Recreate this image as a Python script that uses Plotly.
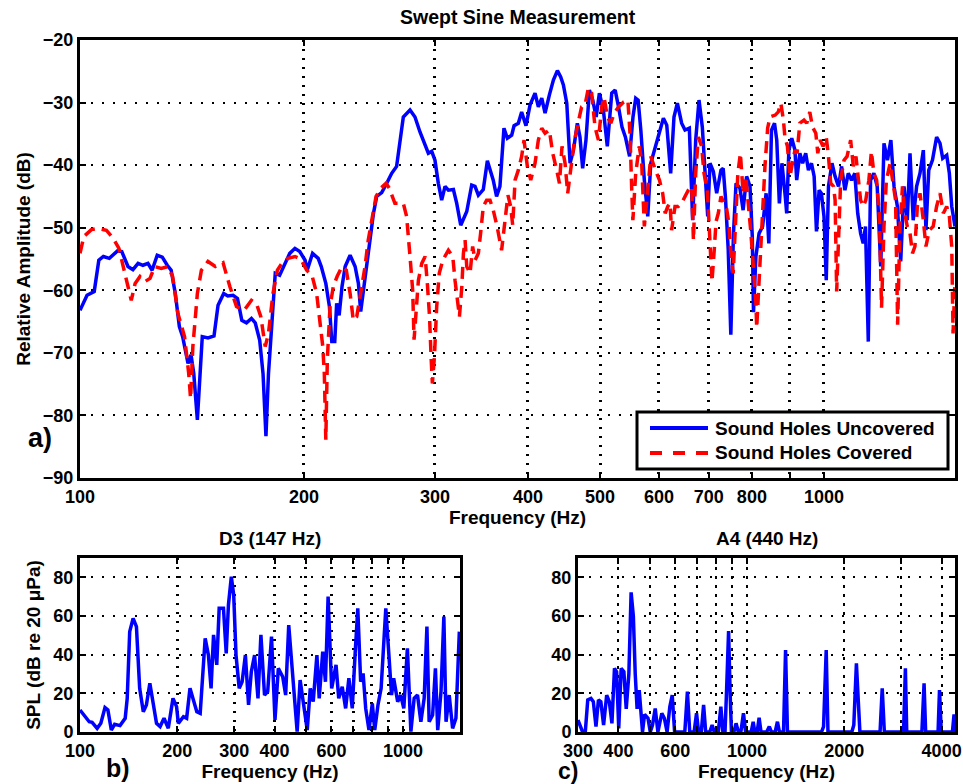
import math
import plotly.graph_objects as go

# ---------------- Data ----------------
# Panel a) Swept sine measurement, sound holes uncovered
a_unc_freq = [100, 102.2, 104.5, 106, 107.5, 109.5, 112.3, 113.8, 116, 117.8, 119.7, 121.5, 123.4, 125, 127, 129,
              131, 132.6, 134.3, 136, 137.4, 139.7, 141, 142.2, 143.8, 146, 148.6, 151.4, 153.3, 156, 158, 160.6,
              162.8, 165, 167.4, 170, 172, 174.4, 176.2, 177.8, 179.2, 181.2, 183, 185.5, 188.4, 191.4, 194.5,
              197.4, 200.7, 202, 205.4, 209, 211, 214, 216.4, 218, 220, 221.3, 223, 225, 227.2, 230.7, 234.3,
              236.7, 238.4, 240.9, 242.9, 245.4, 248, 250.5, 254.4, 258.4, 262.4, 266.4, 269.2, 272, 277.7, 282,
              286.4, 290.9, 293.9, 297, 300, 303.1, 306.3, 309.5, 312.7, 317.6, 320.9, 324.9, 328.3, 331, 336.1,
              339.6, 343.1, 348.4, 352.8, 356.4, 359.3, 363, 366.8, 371.4, 375.3, 380.4, 383.2, 388.3, 392.3,
              397.6, 402.6, 408.9, 413.1, 417.5, 421.8, 427.4, 432.8, 438.2, 442.7, 446.4, 451.1, 455.7, 460.5,
              466.1, 469.9, 473.8, 478.7, 483.8, 488.8, 494, 499, 505.2, 511.4, 518.5, 524, 529.5, 535.2, 540.8,
              547.9, 553.7, 558.4, 562.6, 567.3, 573.5, 579.6, 585, 593.5, 601, 608.3, 614.7, 622.2, 628.6, 635.2,
              643.7, 650.4, 659.2, 666, 672.3, 679.2, 686.2, 691.9, 697.8, 702.7, 710, 717.4, 727, 732, 737,
              743.5, 749.5, 755.7, 761.7, 771, 778.6, 787, 795.3, 801, 804, 810, 818, 827, 836, 843, 850, 858,
              864, 871, 878, 887, 891, 897, 905, 914, 919, 928, 936, 945, 953, 962, 970, 977, 985, 992, 1000,
              1007, 1014, 1025, 1035, 1046, 1056, 1067, 1078, 1089, 1100, 1110, 1120, 1129, 1137, 1147, 1155,
              1167, 1179, 1192, 1204, 1217, 1230, 1242, 1255, 1268, 1281, 1294, 1305, 1318, 1332, 1346, 1360,
              1371, 1383, 1399, 1417, 1432, 1444, 1462, 1474, 1485, 1500]
a_unc_db = [-63.2, -60.8, -60.2, -55.2, -54.6, -54.9, -53.7, -53.8, -56.2, -56.7, -55.7, -56, -55.7, -56.8, -54.4,
            -54.7, -56, -56.8, -60.5, -65.8, -67.4, -71.7, -70.3, -73.3, -80.7, -67.4, -67.6, -67.3, -62.4, -60.5,
            -60.9, -60.8, -61.3, -64.8, -65.2, -64.5, -65.2, -68, -73.3, -83.3, -73.3, -63.7, -57.3, -57.6, -55.7,
            -54.1, -53.3, -53.8, -55.2, -56.8, -54.1, -54.9, -56.2, -58.9, -62.6, -68.2, -68.2, -62.1, -64, -59.4,
            -56.2, -54.4, -56.2, -58.9, -63.4, -59.4, -56.2, -52, -47.7, -45, -44.4, -42.9, -41.3, -40.2, -36,
            -32.3, -31.2, -32.3, -34.7, -37, -38.1, -37.8, -39.2, -42.9, -45.6, -43.4, -44, -43.9, -46.1, -49.6,
            -48.5, -47.4, -43.2, -43.4, -44.8, -43.9, -39.3, -41.3, -42.4, -45, -43.4, -34.1, -35.7, -35.2, -33.7,
            -33.3, -31.5, -33.7, -30.4, -28.5, -30.7, -29.3, -31.7, -28.8, -26.4, -24.9, -25.9, -27.2, -30.1,
            -39.7, -37.6, -33.3, -35.5, -40.5, -36, -28, -29.6, -32.3, -28.5, -31.2, -37, -28.5, -28, -30.7,
            -33.9, -35.5, -38.6, -32.3, -29.3, -29.6, -34.4, -42.4, -48.2, -39.7, -37, -34.9, -32.5, -33.6,
            -41.3, -32.3, -30.1, -33.3, -34.4, -34.1, -48.8, -36, -29.6, -33.9, -40.2, -48.2, -39.7, -41, -44.5,
            -40.8, -40.5, -45, -53.5, -67.1, -50.9, -42.9, -43.7, -47.2, -41.8, -43.4, -51.4, -63.5, -54.6,
            -50.9, -49.8, -44.5, -52.5, -34.4, -33.3, -36, -46.1, -39.7, -45, -47.7, -37.6, -35.7, -37.6, -42.4,
            -38.1, -39.7, -38.1, -40.8, -39.7, -41.8, -50.6, -44, -44.5, -48.2, -58.4, -43.4, -39.7, -41.8,
            -43.4, -40.2, -44, -41.3, -42.4, -41.3, -47.7, -50.9, -52.5, -49.8, -68.2, -42.4, -41.3, -43.4,
            -56.2, -36.5, -39.2, -36, -43.4, -46.6, -55.4, -43.4, -48.8, -38.1, -48.8, -43.4, -41.3, -37.6,
            -50.4, -40.8, -39.2, -35.5, -36.5, -38.9, -38.4, -41.3, -46.6, -49.8]

# Panel a) sound holes covered
a_cov_freq = [100, 101.2, 103.6, 105.7, 108.5, 110.8, 112.8, 115, 117.2, 118.6, 120.4, 122.3, 124.2, 126, 128.6,
              131.3, 133.2, 135.4, 138.2, 140, 140.8, 141.8, 143.8, 145.6, 148.6, 152, 155.7, 159, 162.3, 166.2,
              170, 172.6, 175, 177.4, 179.2, 181.7, 184.2, 186.8, 190.4, 194.5, 198, 201.7, 205, 208, 210, 212,
              213, 213.6, 214, 215, 216.8, 219, 221.6, 225, 228, 230.7, 233, 235.5, 238.4, 241.6, 244, 246.7, 250,
              253.6, 257.9, 260.5, 265, 272, 274.8, 277.7, 280, 281.2, 282.9, 285, 288, 291, 293, 295, 296.4,
              297.6, 299.5, 301.6, 304, 307.3, 312.7, 317, 319.2, 321.6, 323.6, 326, 327.6, 329.3, 331, 334.4,
              337.1, 339.6, 343.1, 345.5, 348.4, 352, 355.7, 359.3, 363.6, 368.7, 372.5, 376, 379.2, 381.6,
              384.4, 388.3, 392.3, 395.2, 399.3, 403.5, 408.9, 413.1, 417.5, 421.8, 427.4, 431.9, 437.3, 441,
              444.5, 448.7, 452.4, 456.6, 461.4, 467.5, 472.3, 477.3, 482.2, 487.2, 492.3, 497.5, 502.6, 506.3,
              511.5, 517, 522.3, 529.5, 538, 545, 548.6, 551.6, 553.5, 558.4, 564.5, 568.6, 573.5, 579.6, 585,
              593.5, 601, 607, 611.7, 616.7, 620.9, 624, 630.6, 637, 643.7, 650.4, 657, 664, 667.6, 672.3, 677.8,
              684.8, 689.8, 697, 701.3, 704, 707, 712, 716, 721, 727, 734, 740, 745, 749, 755, 760, 766, 772,
              778.6, 785, 791, 797, 803.6, 810, 812, 816, 822, 827, 833, 840, 846, 860, 868, 875, 882, 886, 893,
              900, 908, 914, 920, 928, 940, 948, 957, 965, 975, 981, 988, 997, 1007, 1014, 1021, 1030, 1035,
              1040, 1046, 1053, 1064, 1074, 1086, 1095, 1104, 1112, 1120, 1129, 1138, 1149, 1158, 1167, 1177,
              1187, 1195, 1204, 1213, 1227, 1240, 1248, 1256, 1265, 1275, 1284, 1294, 1305, 1315, 1325, 1335,
              1346, 1360, 1371, 1385, 1402, 1417, 1432, 1447, 1462, 1474, 1485, 1491, 1500]
a_cov_db = [-54.1, -51.4, -50.3, -50.1, -50.4, -51.7, -53.3, -57.3, -61.6, -58.9, -57.8, -58.6, -58.1, -56.2, -56.5,
            -56.2, -57.8, -63.7, -67.4, -73.3, -77.3, -69, -60.5, -56.8, -55.4, -56.2, -55.6, -59.4, -62.6, -63.2,
            -61.6, -62.1, -64.2, -69, -66.9, -60.5, -56.8, -55.7, -54.9, -54.6, -55, -56.8, -57.6, -60.5, -64.8,
            -69, -73.3, -78.6, -83.9, -71.1, -62.6, -59.4, -57.8, -56.2, -56.8, -60.5, -64.8, -64.2, -60.5,
            -56.2, -52, -48.8, -45, -43.7, -42.9, -43.7, -46.1, -46.1, -48.2, -54.6, -60, -67.9, -63.7, -58.4,
            -55.7, -54.6, -58.9, -64.2, -70.6, -74.9, -70.6, -62.6, -57.3, -55.2, -53.6, -54.6, -58.4, -62.1,
            -64.2, -59.4, -54.1, -52, -56.2, -57.3, -53, -55.2, -54.1, -50.9, -46.6, -45.6, -45.6, -47.2, -49.8,
            -53.6, -48.8, -44.8, -46.6, -49.6, -42.4, -40.8, -38.6, -36, -40.2, -42.4, -39.7, -36, -34.1,
            -34.9, -34.4, -38.1, -40.8, -42.9, -37, -39.7, -44.5, -40.2, -36.5, -33.1, -30.7, -30.4, -27.7,
            -28.5, -33.9, -36, -30.7, -29.1, -32.3, -33.3, -31.7, -30.7, -29.9, -29.6, -34.9, -44, -48.8,
            -41.3, -37, -39.2, -49.8, -44, -38.6, -40.8, -42.4, -44.5, -47.7, -46.6, -46.1, -50.4, -46.6,
            -46.6, -46.1, -45, -44, -43.4, -52, -41.3, -35.5, -37, -41.3, -44, -49.8, -54, -58.6, -53.6, -49,
            -47.7, -45, -46.1, -47, -49.3, -53.6, -57.3, -49.8, -41.3, -38.1, -44.5, -41.8, -45.6, -50.4, -56.2,
            -62, -66, -60.5, -54.6, -46.6, -40.2, -34.1, -32.3, -32, -31.5, -30.1, -32.8, -35.5, -37, -41.8,
            -39.7, -37.6, -38.1, -33.3, -32.8, -33.3, -31.5, -33.9, -34.9, -38.1, -36, -37, -35.5, -38.6, -42.9,
            -43.4, -45.6, -60.2, -52, -42.4, -39.2, -38.6, -36, -40.2, -38.6, -42.4, -45.6, -46.6, -45.6, -42.4,
            -37.8, -41.3, -42.4, -48.2, -62.8, -49.8, -42.4, -39.7, -43.4, -45.6, -65.5, -49.8, -43.4, -47.7,
            -49.8, -50.9, -54.1, -53, -46.6, -44.5, -48.8, -53, -50.4, -49.8, -46.6, -44.5, -47.7, -46.6, -48.2,
            -53, -66.9, -58.4]

# Panel b) D3 (147 Hz) spectrum
b_freq = [100, 103.5, 106.8, 109, 113, 116, 119.5, 122, 125, 128, 133, 138, 140, 142.5, 146, 149.5, 153, 157,
          160.5, 164.5, 168.5, 172.5, 177, 182, 187.6, 194, 199, 201.5, 209, 213.8, 219, 224, 229.9, 235.5,
          239.5, 244, 249.7, 254.5, 259, 265, 269.6, 278, 283.5, 288, 294, 299, 304, 311, 317.5, 325, 332.4,
          339, 347, 355.5, 363, 372.5, 381, 391.5, 401.3, 411, 424, 433, 442.6, 456, 470, 480, 490, 505, 516,
          527, 541, 550, 564, 575, 586, 601, 620, 632, 648, 664, 679.5, 696, 710, 724, 739, 752, 766, 784, 803,
          817, 836, 855, 884, 905, 921, 935, 962, 983, 1005, 1031, 1057, 1082, 1108, 1135, 1162, 1185, 1204,
          1234, 1259, 1280, 1310, 1337, 1358, 1389, 1423, 1457, 1475, 1493]
b_spl = [11.4, 7.9, 5.3, 5, 1.9, 4.5, 12.6, 11.4, 1, 4, 3.3, 7.1, 17.4, 51.9, 58.8, 54.5, 22.6, 10.5, 14, 25.2,
         15.7, 4.5, 2.8, 7.1, 1.9, 17.4, 13.1, 4.5, 7.9, 7.1, 22.6, 17.4, 10.5, 9.7, 26, 48.4, 39.8, 22.6, 50.2,
         34.7, 64, 64, 40.7, 65.7, 80.3, 70.9, 39.8, 22.6, 26, 39.8, 14, 31.2, 39.8, 17.4, 50.2, 19.1, 20.9,
         49.3, 6.2, 32.9, 28.6, 19.1, 55.3, 26, 0.2, 26.9, 17.4, 1, 22.6, 15.7, 39.8, 17.4, 41.6, 26, 70, 22.6,
         34.7, 17.4, 23.4, 12.2, 27.8, 12.2, 39.8, 64, 26, 30.3, 12.2, 1, 14.8, 1, 14, 22.6, 64, 34.7, 19.1,
         27.8, 15.7, 19.1, 12.2, 43.3, 0.2, 17.4, 19.1, 5.3, 17.4, 54.5, 5.3, 8.8, 32.9, 1, 20.9, 59.7, 5.3,
         19.1, 1.9, 7.1, 32.9, 51.9]

# Panel c) A4 (440 Hz) spectrum
c_freq = [300, 310, 316, 321.6, 329, 334.6, 341, 347, 353, 360, 368, 375, 382, 389, 395, 401, 408, 416, 423, 431,
          438, 445, 451, 457, 464, 470, 475, 482, 494, 502, 510, 520, 530, 545, 555, 566, 577, 587, 597, 642,
          654, 665, 686, 698, 708, 722, 734, 745, 767, 780, 792, 815, 830, 842, 855, 865, 877, 887, 895, 911,
          925, 940, 957, 975, 990, 1030, 1045, 1057, 1075, 1090, 1105, 1150, 1172, 1190, 1222, 1242, 1260,
          1297, 1316, 1334, 1700, 1725, 1758, 1780, 1820, 2110, 2140, 2180, 2210, 2235, 2580, 2620, 2660,
          3050, 3090, 3120, 3475, 3500, 3530, 3570, 3900, 3940, 3990, 4320, 4370, 4400]
c_spl = [6.2, 0, 0, 16.6, 17.4, 15.7, 2.8, 16.6, 15.7, 3.6, 19.1, 15.7, 4.5, 32.9, 31.2, 1.9, 32.9, 31.2, 12, 30,
         72.2, 60, 30, 12, 21.7, 10.5, 0, 9.1, 7.1, 0, 3.6, 12.2, 0, 9.7, 7.1, 0, 13.1, 19.1, 0, 0,
         20.9, 0, 0, 9.7, 0, 0, 14, 0, 0, 3.6, 0, 0, 13.1, 0, 0, 22.6, 52.2, 19.1, 0, 0,
         4.5, 0, 0, 9.7, 0, 0, 5.3, 0, 0, 7.4, 0, 0, 2.8, 0, 0, 5.3, 0,
         0, 42.4, 0, 0, 2.8, 42.4, 0, 0, 0, 3.6, 35.5, 15.7, 0, 0, 22.6, 0,
         0, 32.9, 0, 0, 13.1, 25.2, 0, 0, 21.7, 0, 0, 9.1, 0]

# Tick labels
a_tickvals = [100, 200, 300, 400, 500, 600, 700, 800, 900, 1000]
a_ticktext = ["100", "200", "300", "400", "500", "600", "700", "800", "", "1000"]
b_tickvals = [100, 200, 300, 400, 500, 600, 700, 800, 900, 1000]
b_ticktext = ["100", "200", "300", "400", "", "600", "", "", "", "1000"]
c_tickvals = [300, 400, 500, 600, 700, 800, 900, 1000, 2000, 3000, 4000]
c_ticktext = ["300", "400", "", "600", "", "", "", "1000", "2000", "", "4000"]
legend_names = ["Sound Holes Uncovered", "Sound Holes Covered"]

# ---------------- Figure ----------------
W, H = 963, 784
FONT = "Liberation Sans, Arial, Helvetica, sans-serif"
BLUE = "#0000FF"
RED = "#FF0000"
RED_DASH = "12px,7px"


def px(x):
    return x / W


def py(y):
    return 1 - y / H


fig = go.Figure()
fig.add_trace(go.Scatter(x=a_unc_freq, y=a_unc_db, mode="lines", name=legend_names[0], showlegend=False,
                         line=dict(color=BLUE, width=3.5), xaxis="x", yaxis="y"))
fig.add_trace(go.Scatter(x=a_cov_freq, y=a_cov_db, mode="lines", name=legend_names[1], showlegend=False,
                         line=dict(color=RED, width=3.5, dash=RED_DASH), xaxis="x", yaxis="y"))
fig.add_trace(go.Scatter(x=b_freq, y=b_spl, mode="lines", showlegend=False, name="D3 (147 Hz)",
                         line=dict(color=BLUE, width=3.5), xaxis="x2", yaxis="y2"))
fig.add_trace(go.Scatter(x=c_freq, y=c_spl, mode="lines", showlegend=False, name="A4 (440 Hz)",
                         line=dict(color=BLUE, width=3.5), xaxis="x3", yaxis="y3"))

tickfont = dict(family=FONT, size=18, color="black", weight="bold")
titlefont = dict(family=FONT, size=19, color="black", weight="bold")

common_x = dict(type="log", showline=True, linecolor="black", linewidth=3, mirror="ticks",
                ticks="inside", ticklen=6, tickwidth=2, tickcolor="black",
                showgrid=True, gridcolor="black", gridwidth=3, griddash="2px,7px",
                tickfont=tickfont, zeroline=False, automargin=False)
common_y = dict(showline=True, linecolor="black", linewidth=3, mirror="ticks",
                ticks="inside", ticklen=6, tickwidth=2, tickcolor="black",
                showgrid=True, gridcolor="black", gridwidth=2, griddash="2px,9px",
                tickfont=tickfont, zeroline=False, automargin=False)

fig.update_layout(
    width=W, height=H, margin=dict(l=0, r=0, t=0, b=0, autoexpand=False),
    paper_bgcolor="white", plot_bgcolor="white", showlegend=False,
    font=dict(family=FONT, size=19, color="black", weight="bold"),
    xaxis=dict(common_x, domain=[px(80), px(955)], anchor="y",
               range=[2, math.log10(1500)], tickvals=a_tickvals, ticktext=a_ticktext,
               title=dict(text="Frequency (Hz)", font=titlefont, standoff=4)),
    yaxis=dict(common_y, domain=[py(478), py(40)], anchor="x",
               range=[-90, -20], tickvals=[-90, -80, -70, -60, -50, -40, -30, -20],
               title=dict(text="Relative Amplitude (dB)", font=titlefont, standoff=8)),
    xaxis2=dict(common_x, domain=[px(80), px(460)], anchor="y2",
                range=[2, math.log10(1500)], tickvals=b_tickvals, ticktext=b_ticktext,
                title=dict(text="Frequency (Hz)", font=titlefont, standoff=4)),
    yaxis2=dict(common_y, domain=[py(732), py(558)], anchor="x2",
                range=[0, 90], tickvals=[0, 20, 40, 60, 80],
                title=dict(text="SPL (dB re 20 μPa)", font=titlefont, standoff=8)),
    xaxis3=dict(common_x, domain=[px(578), px(955)], anchor="y3",
                range=[math.log10(300), math.log10(4400)], tickvals=c_tickvals, ticktext=c_ticktext,
                gridwidth=1.5, griddash="3px,6px",
                title=dict(text="Frequency (Hz)", font=titlefont, standoff=4)),
    yaxis3=dict(common_y, domain=[py(732), py(558)], anchor="x3",
                range=[0, 90], tickvals=[0, 20, 40, 60, 80]),
    shapes=[
        # legend box and samples
        dict(type="rect", xref="paper", yref="paper", x0=px(637), x1=px(948), y0=py(469), y1=py(412),
             line=dict(color="black", width=3), fillcolor="white", layer="above"),
        dict(type="line", xref="paper", yref="paper", x0=px(650), x1=px(708), y0=py(428), y1=py(428),
             line=dict(color=BLUE, width=4), layer="above"),
        dict(type="line", xref="paper", yref="paper", x0=px(650), x1=px(710), y0=py(453), y1=py(453),
             line=dict(color=RED, width=4, dash="12px,11px"), layer="above"),
    ],
    annotations=[
        dict(text=legend_names[0], x=px(713), y=py(428), xref="paper", yref="paper",
             showarrow=False, font=titlefont, xanchor="left", yanchor="middle"),
        dict(text=legend_names[1], x=px(713), y=py(453), xref="paper", yref="paper",
             showarrow=False, font=titlefont, xanchor="left", yanchor="middle"),
        dict(text="Swept Sine Measurement", x=px(517.5), y=py(17), xref="paper", yref="paper",
             showarrow=False, font=dict(titlefont, size=19.5), xanchor="center", yanchor="middle"),
        dict(text="D3 (147 Hz)", x=px(270), y=py(538), xref="paper", yref="paper",
             showarrow=False, font=titlefont, xanchor="center", yanchor="middle"),
        dict(text="A4 (440 Hz)", x=px(767), y=py(538), xref="paper", yref="paper",
             showarrow=False, font=titlefont, xanchor="center", yanchor="middle"),
        dict(text="a)", x=px(40), y=py(438), xref="paper", yref="paper",
             showarrow=False, font=dict(family=FONT, size=27, color="black", weight="bold"),
             xanchor="center", yanchor="middle"),
        dict(text="b)", x=px(118), y=py(768), xref="paper", yref="paper",
             showarrow=False, font=dict(family=FONT, size=25, color="black", weight="bold"),
             xanchor="center", yanchor="middle"),
        dict(text="c)", x=px(568), y=py(771), xref="paper", yref="paper",
             showarrow=False, font=dict(family=FONT, size=23, color="black", weight="bold"),
             xanchor="center", yanchor="middle"),
    ],
)

fig.write_html("out.html", config={"displayModeBar": False},
               post_script="document.body.style.margin='0';document.body.style.overflow='hidden';")
